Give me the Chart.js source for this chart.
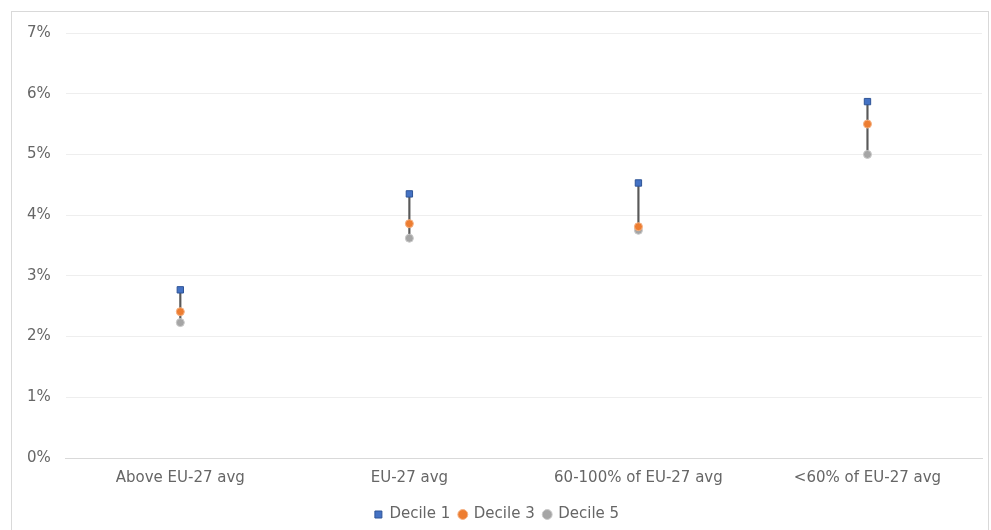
<!DOCTYPE html>
<html lang="en">
<head>
    <meta charset="UTF-8">
    <title>Deciles by region group</title>
    <script src="https://cdn.jsdelivr.net/npm/chart.js"></script>
    <style>
        body {
            margin: 0;
            background-color: #fff;
        }

        .frame {
            position: absolute;
            left: 11px;
            top: 11px;
            width: 978px;
            height: 525px;
            border: 1px solid #d9d9d9;
            box-sizing: border-box;
        }

        .frame canvas {
            position: relative;
            top: -3px;
        }
    </style>
</head>
<body>
    <div class="frame">
        <canvas id="chart"></canvas>
    </div>
    <script>
        const categories = ['Above EU-27 avg', 'EU-27 avg', '60-100% of EU-27 avg', '<60% of EU-27 avg'];
        const decile1 = [2.77, 4.35, 4.53, 5.87];
        const decile3 = [2.41, 3.86, 3.81, 5.50];
        const decile5 = [2.23, 3.62, 3.75, 5.00];

        // high-low line between the deciles
        const ranges = categories.map((c, i) => {
            const vals = [decile1[i], decile3[i], decile5[i]];
            return [Math.min(...vals), Math.max(...vals)];
        });

        const textColor = '#666666';
        const fontFamily = '"DejaVu Sans", sans-serif';

        new Chart(document.getElementById('chart'), {
            data: {
                labels: categories,
                datasets: [
                    {
                        type: 'bar',
                        label: 'range',
                        data: ranges,
                        backgroundColor: '#595959',
                        barThickness: 1.5,
                        order: 10
                    },
                    {
                        type: 'line',
                        label: 'Decile 1',
                        data: decile1,
                        showLine: false,
                        pointStyle: 'rect',
                        pointRadius: 4.5,
                        backgroundColor: '#4472C4',
                        borderColor: '#2F5597',
                        borderWidth: 1,
                        order: 1
                    },
                    {
                        type: 'line',
                        label: 'Decile 3',
                        data: decile3,
                        showLine: false,
                        pointStyle: 'circle',
                        pointRadius: 4,
                        backgroundColor: '#ED7D31',
                        borderColor: '#F4B183',
                        borderWidth: 1,
                        order: 2
                    },
                    {
                        type: 'line',
                        label: 'Decile 5',
                        data: decile5,
                        showLine: false,
                        pointStyle: 'circle',
                        pointRadius: 4,
                        backgroundColor: '#A5A5A5',
                        borderColor: '#C9C9C9',
                        borderWidth: 1,
                        order: 3
                    }
                ]
            },
            options: {
                responsive: true,
                maintainAspectRatio: false,
                animation: false,
                layout: {
                    padding: { left: 0, right: 6, top: 11, bottom: 0 }
                },
                plugins: {
                    tooltip: { enabled: false },
                    legend: {
                        position: 'bottom',
                        labels: {
                            filter: item => item.text !== 'range',
                            usePointStyle: true,
                            boxWidth: 7,
                            boxHeight: 7,
                            padding: 9,
                            color: textColor,
                            font: { family: fontFamily, size: 15 }
                        }
                    }
                },
                scales: {
                    x: {
                        grid: { display: false, drawTicks: false },
                        border: { color: '#d9d9d9' },
                        ticks: {
                            color: textColor,
                            padding: 11,
                            font: { family: fontFamily, size: 15 }
                        }
                    },
                    y: {
                        min: 0,
                        max: 7,
                        grid: { color: '#eeeeee', drawTicks: false },
                        border: { display: false },
                        ticks: {
                            stepSize: 1,
                            color: textColor,
                            padding: 15,
                            font: { family: fontFamily, size: 15 },
                            callback: v => v + '%'
                        }
                    }
                }
            }
        });
    </script>
</body>
</html>
